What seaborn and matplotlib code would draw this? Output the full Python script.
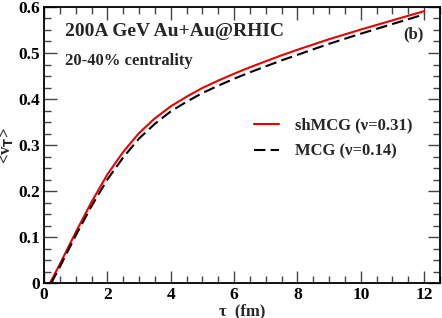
import numpy as np
import pandas as pd
import matplotlib
matplotlib.use("Agg")
import matplotlib.pyplot as plt
from matplotlib.ticker import MultipleLocator
import seaborn as sns

# values
tau_sh = [0.19, 0.5, 1.0, 1.5, 2.0, 2.5, 3.0, 3.5, 4.0, 4.5, 5.0, 5.5, 6.0, 6.5, 7.0, 7.5, 8.0, 9.0, 10.0, 11.0, 12.0]
v_sh = [0.0, 0.041, 0.110, 0.176, 0.236, 0.285, 0.326, 0.358, 0.384, 0.405, 0.424, 0.440, 0.455, 0.469, 0.482, 0.495, 0.507, 0.530, 0.551, 0.571, 0.591]

tau_mcg = [0.23, 0.5, 1.0, 1.5, 2.0, 2.5, 3.0, 3.5, 4.0, 4.5, 5.0, 5.5, 6.0, 6.5, 7.0, 7.5, 8.0, 9.0, 10.0, 11.0, 12.0]
v_mcg = [0.0, 0.035, 0.103, 0.167, 0.225, 0.273, 0.314, 0.346, 0.373, 0.394, 0.413, 0.429, 0.444, 0.458, 0.471, 0.484, 0.496, 0.520, 0.542, 0.563, 0.584]

labels = ["shMCG (\u03bd=0.31)", "MCG (\u03bd=0.14)"]

sns.set_style("ticks")
plt.rcParams["font.family"] = ["Liberation Serif", "DejaVu Serif"]
plt.rcParams["font.weight"] = "bold"

fig = plt.figure(figsize=(4.42, 3.18), dpi=100)
ax = fig.add_axes([0.0995, 0.110, 0.896, 0.868])

sns.lineplot(x=tau_sh, y=v_sh, ax=ax, color="#ee0000", lw=1.5, label=labels[0])
sns.lineplot(x=tau_mcg, y=v_mcg, ax=ax, color="black", lw=1.5, label=labels[1])
ax.lines[1].set_dashes([5.5, 2.5])

ax.set_xlim(0, 12.5)
ax.set_ylim(0, 0.6)
ax.xaxis.set_minor_locator(MultipleLocator(0.5))
ax.yaxis.set_minor_locator(MultipleLocator(0.025))
ax.set_xticks([0, 2, 4, 6, 8, 10, 12])
ax.set_xticklabels(["0", "2", "4", "6", "8", "10", "12"])
ax.set_yticks([0, 0.1, 0.2, 0.3, 0.4, 0.5, 0.6])
ax.set_yticklabels(["0", "0.1", "0.2", "0.3", "0.4", "0.5", "0.6"])
ax.tick_params(which="both", direction="in", top=True, right=True, width=1.0,
               labelsize=12.5, colors="#444444", labelcolor="black")
ax.tick_params(which="major", length=9, pad=3)
ax.tick_params(which="minor", length=5)
for lab in ax.get_xticklabels() + ax.get_yticklabels():
    lab.set_fontweight("bold")
for s in ax.spines.values():
    s.set_linewidth(1.3)
    s.set_color("black")

ax.set_xlabel("\u03c4  (fm)", fontsize=12, fontweight="bold", labelpad=0)
ax.set_ylabel(r"<v$_\mathbf{T}$>", fontsize=12, fontweight="bold")
ax.yaxis.set_label_coords(-0.072, 0.5)

ax.text(0.053, 0.911, "200A GeV Au+Au@RHIC", transform=ax.transAxes,
        fontsize=14, fontweight="bold", va="center", ha="left")
ax.text(0.053, 0.804, "20-40% centrality", transform=ax.transAxes,
        fontsize=12, fontweight="bold", va="center", ha="left")
ax.text(0.932, 0.902, "(b)", transform=ax.transAxes,
        fontsize=12, fontweight="bold", va="center", ha="center")

leg = ax.legend(loc="center left", bbox_to_anchor=(0.530, 0.524), frameon=False,
                borderpad=0, borderaxespad=0,
                handlelength=1.5, handletextpad=0.95, labelspacing=0.6,
                prop={"size": 12, "weight": "bold", "family": ["Liberation Serif", "DejaVu Serif"]})

fig.savefig("out.png", dpi=100)
